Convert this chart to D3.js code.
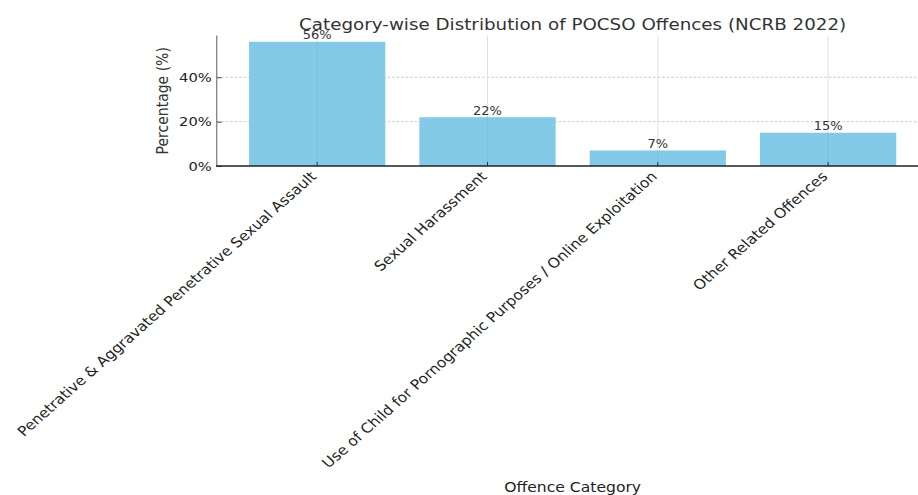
<!DOCTYPE html>
<html>
<head>
<meta charset="utf-8">
<script src="https://cdn.jsdelivr.net/npm/d3@7"></script>
<style>
  html, body { margin: 0; padding: 0; background: #fff; }
  svg { display: block; font-family: "DejaVu Sans", sans-serif; }
</style>
</head>
<body>
<svg id="chart" width="918" height="495"></svg>
<script>
// POCSO offences by category, NCRB 2022 (share of all cases, %)
const categories = [
  "Penetrative & Aggravated Penetrative Sexual Assault",
  "Sexual Harassment",
  "Use of Child for Pornographic Purposes / Online Exploitation",
  "Other Related Offences"
];
const shares = [56, 22, 7, 15];
const yTicks = [0, 20, 40];
const titleText = "Category-wise Distribution of POCSO Offences (NCRB 2022)";
const xTitle = "Offence Category";
const yTitle = "Percentage (%)";

const plot = { left: 216.7, right: 928.6, top: 35.6, bottom: 166 };
const sx = 1.13; // horizontal text stretch of the figure

const svg = d3.select("#chart");

const x = d3.scaleBand()
  .domain(categories)
  .range([plot.left, plot.right])
  .paddingInner(0.2)
  .paddingOuter(0.19);

const y = d3.scaleLinear()
  .domain([0, d3.max(shares) * 1.05])
  .range([plot.bottom, plot.top]);

// horizontal grid (behind bars)
svg.append("g")
  .selectAll("line")
  .data(yTicks.filter(d => d > 0))
  .join("line")
  .attr("x1", plot.left).attr("x2", plot.right)
  .attr("y1", d => y(d)).attr("y2", d => y(d))
  .attr("stroke", "#c4c4c4")
  .attr("stroke-width", 0.9)
  .attr("stroke-dasharray", "2.5,2");

// vertical grid
svg.append("g")
  .selectAll("line")
  .data(categories)
  .join("line")
  .attr("x1", d => x(d) + x.bandwidth() / 2)
  .attr("x2", d => x(d) + x.bandwidth() / 2)
  .attr("y1", plot.top).attr("y2", plot.bottom)
  .attr("stroke", "#dcdcdc")
  .attr("stroke-width", 0.9);

// bars
svg.append("g")
  .selectAll("rect")
  .data(categories)
  .join("rect")
  .attr("x", d => x(d))
  .attr("width", x.bandwidth())
  .attr("y", (d, i) => y(shares[i]))
  .attr("height", (d, i) => y(0) - y(shares[i]))
  .attr("fill", "#83c9e8");

// faint grid line showing through bars
svg.append("g")
  .selectAll("line")
  .data(categories)
  .join("line")
  .attr("x1", d => x(d) + x.bandwidth() / 2)
  .attr("x2", d => x(d) + x.bandwidth() / 2)
  .attr("y1", (d, i) => y(shares[i])).attr("y2", plot.bottom)
  .attr("stroke", "#000")
  .attr("stroke-opacity", 0.05)
  .attr("stroke-width", 0.9);

// value labels
svg.append("g")
  .selectAll("text")
  .data(categories)
  .join("text")
  .attr("transform", (d, i) => `translate(${x(d) + x.bandwidth() / 2},${y(shares[i]) - 2.5}) scale(${sx},1)`)
  .attr("text-anchor", "middle")
  .attr("font-size", 11.5)
  .attr("fill", "#333")
  .text((d, i) => shares[i] + "%");

// y axis
const yAxis = svg.append("g")
  .attr("transform", `translate(${plot.left},0)`)
  .call(d3.axisLeft(y).tickValues(yTicks).tickFormat(d => d + "%").tickSize(-5).tickPadding(6));
yAxis.select(".domain").remove();
yAxis.selectAll(".tick line").attr("stroke", "#444").attr("stroke-width", 1);
yAxis.selectAll(".tick text")
  .attr("font-size", 13)
  .attr("fill", "#222")
  .attr("font-family", "DejaVu Sans")
  .attr("x", 0)
  .attr("transform", `translate(-5,0) scale(${sx},1)`);

// x axis ticks
const xAxis = svg.append("g")
  .attr("transform", `translate(0,${plot.bottom})`)
  .call(d3.axisBottom(x).tickSize(-4).tickSizeOuter(0).tickFormat(""));
xAxis.select(".domain").remove();
xAxis.selectAll(".tick line").attr("stroke", "#333").attr("stroke-width", 1);

// rotated category labels
svg.append("g")
  .selectAll("text")
  .data(categories)
  .join("text")
  .attr("transform", d => `translate(${x(d) + x.bandwidth() / 2 - 8},${plot.bottom + 4}) scale(${sx},1) rotate(-45)`)
  .attr("text-anchor", "end")
  .attr("dy", "0.75em")
  .attr("font-size", 13.8)
  .attr("fill", "#222")
  .text(d => d);

// spines
svg.append("line")
  .attr("x1", plot.left).attr("x2", plot.left)
  .attr("y1", plot.top).attr("y2", plot.bottom)
  .attr("stroke", "#8a8a8a").attr("stroke-width", 1.4);
svg.append("line")
  .attr("x1", plot.left - 0.7).attr("x2", plot.right)
  .attr("y1", plot.bottom).attr("y2", plot.bottom)
  .attr("stroke", "#222").attr("stroke-width", 1.4);

// titles
svg.append("text")
  .attr("transform", `translate(${(plot.left + plot.right) / 2},29.5) scale(${sx},1)`)
  .attr("text-anchor", "middle")
  .attr("font-size", 16.2)
  .attr("fill", "#333")
  .text(titleText);

svg.append("text")
  .attr("transform", `translate(${(plot.left + plot.right) / 2},491.5) scale(${sx},1)`)
  .attr("text-anchor", "middle")
  .attr("font-size", 13.8)
  .attr("fill", "#222")
  .text(xTitle);

svg.append("text")
  .attr("transform", `translate(168,${(plot.top + plot.bottom) / 2}) rotate(-90) scale(1,${sx})`)
  .attr("text-anchor", "middle")
  .attr("font-size", 14)
  .attr("fill", "#333")
  .text(yTitle);
</script>
</body>
</html>
